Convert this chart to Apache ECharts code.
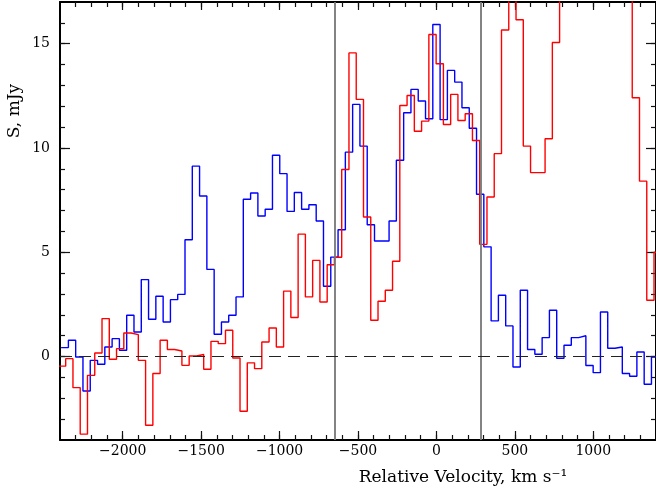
<!DOCTYPE html>
<html>
<head>
<meta charset="utf-8">
<script src="https://cdn.jsdelivr.net/npm/echarts@6/dist/echarts.min.js"></script>
<style>
html,body{margin:0;padding:0;background:#fff;}
#chart{width:656px;height:492px;}
</style>
</head>
<body>
<div id="chart"></div>
<script>
// ---- tick labels ----
const velocityTicks = [-2000, -1500, -1000, -500, 0, 500, 1000];
const fluxTicks = [0, 5, 10, 15];
const velocityRange = [-2400, 1400];
const fluxRange = [-4, 17];

// ---- channel grids (km/s) ----
const blueStartVelocity = -2393;   // left edge of first blue channel
const blueChannelWidth = 46.47;
const redStartVelocity = -2410;    // left edge of first red channel
const redChannelWidth = 46.31;

// ---- flux densities per channel (mJy) ----
const blueFlux = [
  0.43, 0.78, -0.02, -1.65, -0.18, -0.37, 0.46, 0.86, 0.30, 1.98,
  1.18, 3.69, 1.79, 2.89, 1.66, 2.73, 2.98, 5.60, 9.13, 7.70,
  4.18, 1.07, 1.66, 1.98, 2.86, 7.54, 7.84, 6.74, 7.06, 9.65,
  8.77, 6.96, 7.87, 7.06, 7.28, 6.50, 3.37, 4.77, 6.08, 9.80,
  12.09, 10.09, 6.32, 5.54, 5.54, 6.50, 9.41, 11.69, 12.81, 12.25,
  11.40, 15.92, 11.36, 13.72, 13.16, 11.93, 10.95, 7.78, 5.26, 1.71,
  2.94, 1.47, -0.50, 3.18, 0.34, 0.11, 0.91, 2.22, -0.08, 0.54,
  0.91, 1.00, -0.43, -0.77, 2.14, 0.40, 0.46, -0.81, -0.94, 0.22,
  -1.33, -0.02
];
const redFlux = [
  -0.46, -0.10, -1.49, -3.72, -0.90, 0.17, 1.82, -0.13, 0.38, 1.13,
  1.05, -0.18, -3.29, -0.81, 0.78, 0.34, 0.27, -0.42, 0.03, 0.10,
  -0.61, 0.73, 0.62, 1.26, -0.07, -2.62, -0.30, -0.58, 0.70, 1.37,
  0.46, 3.14, 1.87, 5.87, 2.86, 4.61, 2.62, 4.40, 4.76, 8.97,
  14.56, 12.33, 6.69, 1.74, 2.65, 3.18, 4.57, 12.04, 12.52, 10.80,
  11.29, 15.44, 14.04, 11.13, 12.57, 11.32, 11.64, 10.36, 5.38, 7.65,
  9.73, 15.66, 18.5, 16.15, 10.09, 8.82, 8.82, 10.44, 15.06, 19.5,
  21.0, 22.5, 23.0, 22.0, 21.5, 20.5, 20.0, 19.0, 18.0, 12.41,
  8.41, 2.70, 5.00
];

// ---- reference markers ----
const markerVelocities = [-650, 280];
const baselineFlux = 0;

function stepPoints(start, width, values) {
  const pts = values.map((v, i) => [start + i * width, v]);
  pts.push([start + values.length * width, values[values.length - 1]]);
  return pts;
}
function rangeTicks(a, b, step) {
  const out = [];
  for (let v = a; v <= b + 1e-9; v += step) out.push(Math.round(v * 1000) / 1000);
  return out;
}
const velocityMinor = rangeTicks(-2300, 1300, 100);
const fluxMinor = rangeTicks(-3, 16, 1);

const FONT = '"DejaVu Serif", "Liberation Serif", serif';
const minus = v => (v < 0 ? '\u2212' + Math.abs(v) : String(v));

function xAx(pos, ticks, len, showLine, labels) {
  return {
    type: 'value', gridIndex: 0, position: pos,
    min: velocityRange[0], max: velocityRange[1],
    axisLine: { show: showLine, onZero: false, lineStyle: { color: '#000', width: 2 } },
    axisTick: { show: true, inside: true, length: len, customValues: ticks, lineStyle: { color: '#111', width: 1.2 } },
    axisLabel: labels ? { show: true, customValues: ticks, formatter: minus, fontFamily: FONT, fontSize: 14, color: '#000', margin: 4 } : { show: false },
    splitLine: { show: false }, minorTick: { show: false }
  };
}
function yAx(pos, ticks, len, showLine, labels) {
  return {
    type: 'value', gridIndex: 0, position: pos,
    min: fluxRange[0], max: fluxRange[1],
    axisLine: { show: showLine, onZero: false, lineStyle: { color: '#000', width: 2 } },
    axisTick: { show: true, inside: true, length: len, customValues: ticks, lineStyle: { color: '#111', width: 1.2 } },
    axisLabel: labels ? { show: true, customValues: ticks, formatter: minus, fontFamily: FONT, fontSize: 14, color: '#000', margin: 10 } : { show: false },
    splitLine: { show: false }, minorTick: { show: false }
  };
}

const chart = echarts.init(document.getElementById('chart'), null, { renderer: 'canvas' });
chart.setOption({
  animation: false,
  backgroundColor: '#fff',
  grid: { left: 60, top: 2, width: 597, height: 438, containLabel: false },
  xAxis: [
    xAx('bottom', velocityTicks, 9, true, true),
    xAx('bottom', velocityMinor, 5, false, false),
    xAx('top', velocityTicks, 8, true, false),
    xAx('top', velocityMinor, 5, false, false)
  ],
  yAxis: [
    yAx('left', fluxTicks, 10, true, true),
    yAx('left', fluxMinor, 5, false, false),
    yAx('right', fluxTicks, 10, true, false),
    yAx('right', fluxMinor, 5, false, false)
  ],
  graphic: [
    { type: 'text', x: 463, y: 478, silent: true,
      style: { text: 'Relative Velocity, km s\u207B\u00B9', font: '17px ' + FONT, fill: '#000', align: 'center', verticalAlign: 'middle', textAlign: 'center', textVerticalAlign: 'middle' } },
    { type: 'text', x: 15, y: 111, rotation: Math.PI / 2, silent: true,
      style: { text: 'S, mJy', font: '17px ' + FONT, fill: '#000', align: 'center', verticalAlign: 'middle', textAlign: 'center', textVerticalAlign: 'middle' } }
  ],
  series: [
    {
      type: 'line', name: 'blue', xAxisIndex: 0, yAxisIndex: 0,
      step: 'end', symbol: 'none', clip: true,
      lineStyle: { color: '#0000ff', width: 1.4 },
      data: stepPoints(blueStartVelocity, blueChannelWidth, blueFlux),
      markLine: {
        silent: true, symbol: 'none', animation: false,
        label: { show: false },
        data: [
          ...markerVelocities.map(v => ({ xAxis: v, lineStyle: { color: '#777', width: 1.8, type: 'solid' } })),
          { yAxis: baselineFlux, lineStyle: { color: '#222', width: 1.2, type: [12, 7] } }
        ]
      }
    },
    {
      type: 'line', name: 'red', xAxisIndex: 0, yAxisIndex: 0,
      step: 'end', symbol: 'none', clip: true,
      lineStyle: { color: '#ff0000', width: 1.4 },
      data: stepPoints(redStartVelocity, redChannelWidth, redFlux)
    }
  ]
});
</script>
</body>
</html>
